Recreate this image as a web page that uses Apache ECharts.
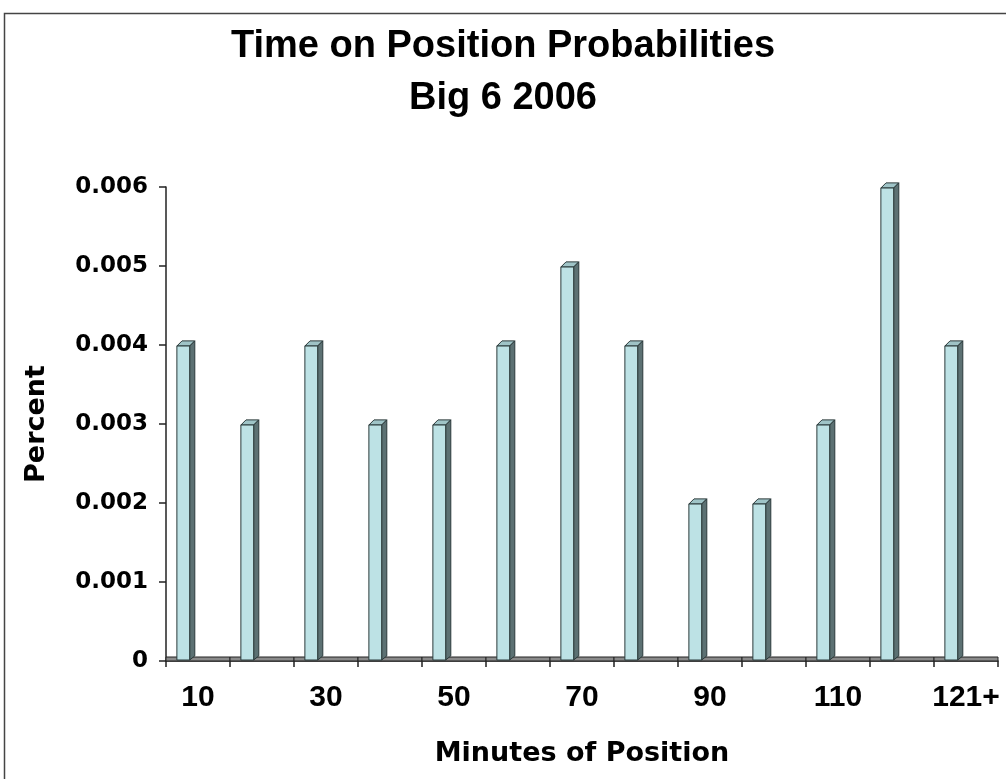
<!DOCTYPE html>
<html>
<head>
<meta charset="utf-8">
<script src="https://cdn.jsdelivr.net/npm/echarts@6/dist/echarts.min.js"></script>
<style>
  html, body { margin: 0; padding: 0; background: #fff; }
  #chart { width: 1006px; height: 779px; }
</style>
</head>
<body>
<div id="chart"></div>
<script>
// categories (minutes) and probability values
const categories = ['10', '20', '30', '40', '50', '60', '70', '80', '90', '100', '110', '120', '121+']
const values = [0.004, 0.003, 0.004, 0.003, 0.003, 0.004, 0.005, 0.004, 0.002, 0.002, 0.003, 0.006, 0.004]
const yTicks = [0, 0.001, 0.002, 0.003, 0.004, 0.005, 0.006]

const chart = echarts.init(document.getElementById('chart'))

// excel style 3d column: front face + side + top
function renderBar(params, api) {
  const idx = api.value(0)
  const top = api.coord([idx, api.value(1)])
  const base = api.coord([idx, 0])
  const bw = api.size([1, 0])[0]
  const cx = top[0]
  const x0 = cx - bw * 0.33
  const w = bw * 0.2
  const d = bw * 0.08
  const ty = top[1] + 1
  const by = base[1] - 1
  const line = { stroke: '#2b3a3b', lineWidth: 1 }
  return {
    type: 'group',
    children: [
      {
        type: 'polygon',
        shape: { points: [[x0, ty], [x0 + d, ty - d], [x0 + w + d, ty - d], [x0 + w, ty]] },
        style: Object.assign({ fill: '#9fc4c7' }, line)
      },
      {
        type: 'polygon',
        shape: { points: [[x0 + w, ty], [x0 + w + d, ty - d], [x0 + w + d, by - d + 1], [x0 + w, by]] },
        style: Object.assign({ fill: '#5c7173' }, line)
      },
      {
        type: 'rect',
        shape: { x: x0, y: ty, width: w, height: by - ty },
        style: Object.assign({ fill: '#bde2e5' }, line)
      }
    ]
  }
}

// thin floor strip under each category
function renderFloor(params, api) {
  const idx = api.value(0)
  const base = api.coord([idx, 0])
  const bw = api.size([1, 0])[0]
  return {
    type: 'rect',
    shape: { x: base[0] - bw / 2, y: base[1] - 4, width: bw, height: 4 },
    style: { fill: '#8a8a8a', stroke: '#222', lineWidth: 1 }
  }
}

chart.setOption({
  animation: false,
  backgroundColor: '#fff',
  title: {
    text: 'Time on Position Probabilities\nBig 6 2006',
    left: 'center',
    top: 16,
    textStyle: {
      fontFamily: 'Liberation Sans, Arial',
      fontWeight: 'bold',
      fontSize: 38,
      lineHeight: 52,
      color: '#000'
    }
  },
  graphic: [
    {
      type: 'rect',
      shape: { x: 4.5, y: 13.5, width: 1010, height: 800 },
      style: { fill: 'none', stroke: '#444', lineWidth: 1.5 },
      silent: true
    }
  ],
  grid: { left: 166, right: 8, top: 187, bottom: 118 },
  xAxis: {
    type: 'category',
    data: categories,
    boundaryGap: true,
    name: 'Minutes of Position',
    nameLocation: 'middle',
    nameGap: 79,
    nameTextStyle: { fontFamily: 'DejaVu Sans', fontWeight: 'bold', fontSize: 27, color: '#000' },
    axisLine: { lineStyle: { color: '#222', width: 1.5 } },
    axisTick: { show: true, interval: 0, length: 6, lineStyle: { color: '#222', width: 1.5 } },
    axisLabel: {
      interval: 1,
      margin: 22,
      fontFamily: 'Liberation Sans, Arial',
      fontWeight: 'bold',
      fontSize: 30,
      color: '#000'
    },
    splitLine: { show: false }
  },
  yAxis: {
    type: 'value',
    min: 0,
    max: yTicks[yTicks.length - 1],
    interval: 0.001,
    name: 'Percent',
    nameLocation: 'middle',
    nameGap: 116,
    nameTextStyle: { fontFamily: 'DejaVu Sans', fontWeight: 'bold', fontSize: 27, color: '#000' },
    axisLine: { show: true, lineStyle: { color: '#222', width: 1.5 } },
    axisTick: { show: true, length: 7, lineStyle: { color: '#222', width: 1.5 } },
    axisLabel: {
      margin: 18,
      fontFamily: 'DejaVu Sans',
      fontWeight: 'bold',
      fontSize: 23,
      color: '#000',
      formatter: function (v) { return v === 0 ? '0' : v.toFixed(3) }
    },
    splitLine: { show: false }
  },
  series: [
    {
      type: 'custom',
      renderItem: renderFloor,
      data: categories.map(function (c, i) { return [i, 0] }),
      z: 1,
      silent: true
    },
    {
      type: 'custom',
      renderItem: renderBar,
      data: values.map(function (v, i) { return [i, v] }),
      z: 2
    }
  ]
})
</script>
</body>
</html>
